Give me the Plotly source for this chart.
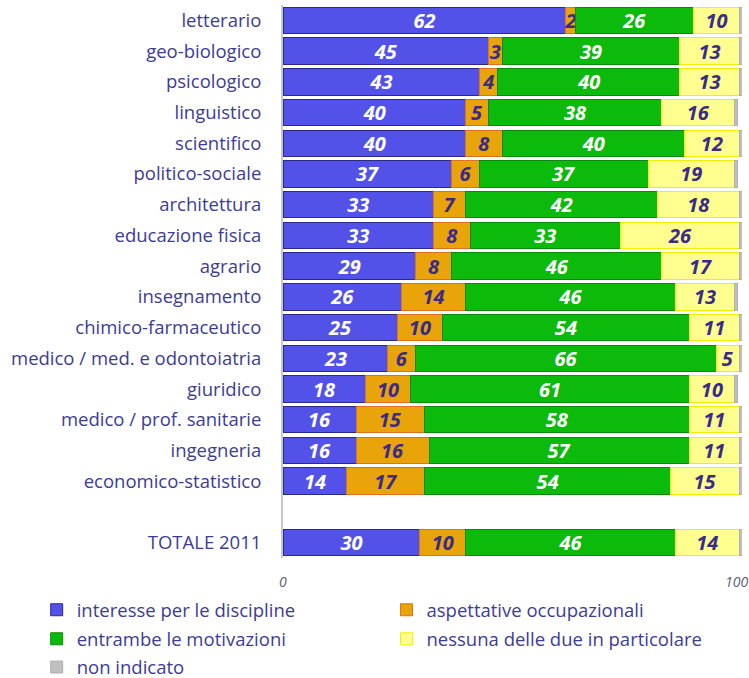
import plotly.graph_objects as go

categories = ["letterario", "geo-biologico", "psicologico", "linguistico", "scientifico",
              "politico-sociale", "architettura", "educazione fisica", "agrario", "insegnamento",
              "chimico-farmaceutico", "medico / med. e odontoiatria", "giuridico",
              "medico / prof. sanitarie", "ingegneria", "economico-statistico", " ", "TOTALE 2011"]

interesse = [62, 45, 43, 40, 40, 37, 33, 33, 29, 26, 25, 23, 18, 16, 16, 14, None, 30]
aspettative = [2, 3, 4, 5, 8, 6, 7, 8, 8, 14, 10, 6, 10, 15, 16, 17, None, 10]
entrambe = [26, 39, 40, 38, 40, 37, 42, 33, 46, 46, 54, 66, 61, 58, 57, 54, None, 46]
nessuna = [10, 13, 13, 16, 12, 19, 18, 26, 17, 13, 11, 5, 10, 11, 11, 15, None, 14]
non_indicato = [0.6, 0.6, 0.6, 0.6, 0.6, 0.6, 0.6, 0.6, 0.6, 0.6, 0.6, 0.6, 0.6, 0.6, 0.6, 0.6, None, 0.6]

x_tickvals = [0, 100]
x_ticktext = ["0", "100"]

series = [
    ("interesse per le discipline", interesse, "#5252e8", "#2a2a8c", "white", "legend"),
    ("aspettative occupazionali", aspettative, "#e8a408", "#e07020", "#3a2a8a", "legend2"),
    ("entrambe le motivazioni", entrambe, "#0cba0c", "#0a8a0a", "white", "legend"),
    ("nessuna delle due in particolare", nessuna, "#ffff90", "#f0f000", "#3a2a8a", "legend2"),
    ("non indicato", non_indicato, "#c0c0c0", "#b0b0b0", "#3a2a8a", "legend3"),
]

FONT = "Open Sans"
LABEL = "#3c3c96"

fig = go.Figure()
for name, vals, col, lcol, tcol, leg in series:
    show_text = name != "non indicato"
    fig.add_trace(go.Bar(
        y=categories, x=vals, name=name, orientation="h",
        marker=dict(color=col, line=dict(color=lcol, width=1)),
        text=[("" if v is None else str(v)) for v in vals] if show_text else None,
        textposition="inside" if show_text else "none",
        insidetextanchor="middle", textangle=0,
        textfont=dict(family=FONT, size=20, color=tcol, weight="bold", style="italic"),
        legend=leg, legendgroup=name,
        hoverinfo="skip",
    ))

leg_common = dict(xref="container", yref="container", xanchor="left", yanchor="top",
                  orientation="v", font=dict(size=18.5, color=LABEL), tracegroupgap=2,
                  itemwidth=30, bgcolor="rgba(0,0,0,0)")

fig.update_layout(
    barmode="stack", bargap=0.14,
    width=749, height=678,
    margin=dict(l=283, r=7, t=5, b=120, autoexpand=False),
    paper_bgcolor="white", plot_bgcolor="white",
    font=dict(family=FONT, color=LABEL),
    uniformtext=dict(minsize=20, mode="show"),
    legend=dict(x=0.049, y=0.128, **leg_common),
    legend2=dict(x=0.516, y=0.128, **leg_common),
    legend3=dict(x=0.049, y=0.0435, **leg_common),
)

# x-axis tick labels placed via annotations so the last one stays inside the page
for v, t in zip(x_tickvals, x_ticktext):
    fig.add_annotation(x=v, xref="x", y=0, yref="paper", yanchor="top", yshift=-12,
                       xanchor="center", xshift=(-3 if v == 100 else 0),
                       text=t, showarrow=False,
                       font=dict(family=FONT, size=14, color="#606070", style="italic"))

fig.update_yaxes(autorange="reversed", type="category", categoryorder="array",
                 categoryarray=categories, showline=True, linecolor="#c8c8c8", linewidth=2,
                 ticks="", ticklabelstandoff=16, tickfont=dict(size=18.5, color=LABEL),
                 showgrid=False, zeroline=False, automargin=False)
fig.update_xaxes(range=[0, 100.6], tickvals=x_tickvals, showticklabels=False,
                 showgrid=False, zeroline=False, showline=False, automargin=False)

fig.write_html("out.html", config={"displayModeBar": False},
               post_script="document.body.style.margin='0';")
